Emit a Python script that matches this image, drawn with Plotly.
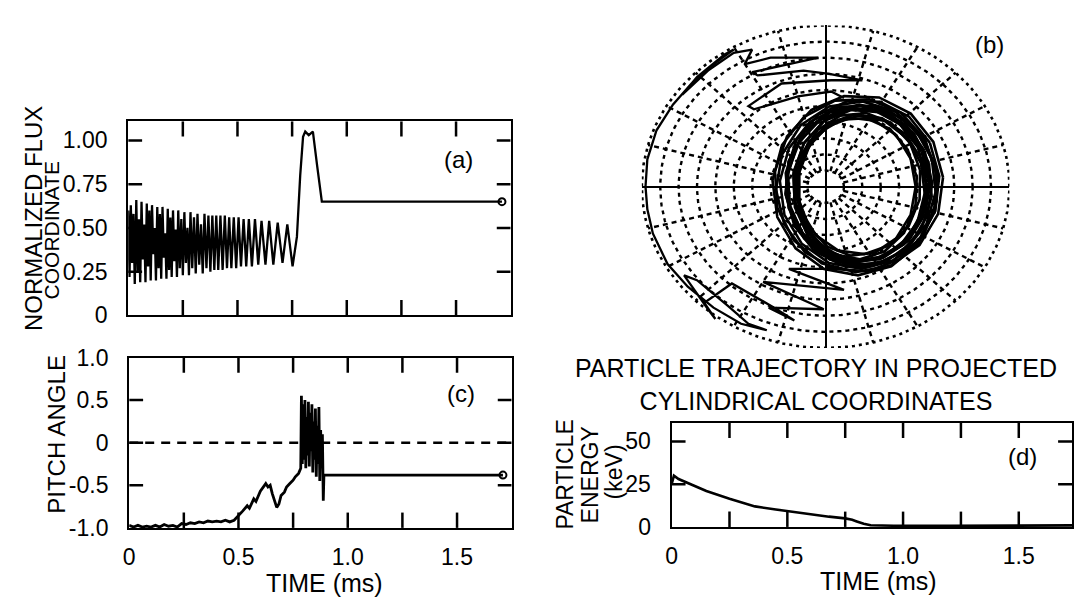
import numpy as np
import plotly.graph_objects as go

# ---------------- data ----------------
# (a) normalized flux coordinate vs time (ms): successive extrema of the orbit
flux_t = [0.000, 0.006, 0.012, 0.018, 0.024, 0.030, 0.037, 0.043, 0.049, 0.055,
          0.061, 0.067, 0.073, 0.079, 0.085, 0.091, 0.097, 0.103, 0.109, 0.115,
          0.121, 0.127, 0.133, 0.139, 0.145, 0.151, 0.157, 0.163, 0.169, 0.175,
          0.181, 0.187, 0.193, 0.199, 0.205, 0.211, 0.217, 0.223, 0.229, 0.236,
          0.243, 0.250, 0.257, 0.264, 0.271, 0.278, 0.285, 0.293, 0.301, 0.309,
          0.317, 0.325, 0.333, 0.341, 0.349, 0.358, 0.367, 0.376, 0.385, 0.394,
          0.403, 0.412, 0.422, 0.432, 0.442, 0.452, 0.462, 0.472, 0.483, 0.494,
          0.505, 0.516, 0.528, 0.540, 0.552, 0.566, 0.580, 0.595, 0.610, 0.628,
          0.645, 0.664, 0.684, 0.706, 0.728, 0.752, 0.772, 0.787, 0.800, 0.810,
          0.826, 0.845, 0.865, 0.886, 1.710]
flux_v = [0.60, 0.22, 0.63, 0.30, 0.58, 0.18, 0.66, 0.25, 0.55, 0.19,
          0.65, 0.32, 0.52, 0.19, 0.64, 0.28, 0.60, 0.20, 0.63, 0.35,
          0.50, 0.20, 0.62, 0.27, 0.58, 0.21, 0.62, 0.33, 0.47, 0.21,
          0.61, 0.26, 0.56, 0.22, 0.60, 0.31, 0.49, 0.22, 0.60, 0.27,
          0.55, 0.23, 0.59, 0.30, 0.50, 0.23, 0.59, 0.27, 0.56, 0.24,
          0.58, 0.29, 0.52, 0.24, 0.58, 0.27, 0.57, 0.25, 0.57, 0.26,
          0.57, 0.26, 0.57, 0.26, 0.57, 0.27, 0.56, 0.27, 0.56, 0.27,
          0.56, 0.28, 0.55, 0.28, 0.55, 0.28, 0.55, 0.29, 0.54, 0.29,
          0.54, 0.29, 0.53, 0.30, 0.52, 0.28, 0.45, 0.80, 1.02, 1.05,
          1.03, 1.05, 0.85, 0.65, 0.65]
flux_end = (1.71, 0.65)

# (c) pitch angle vs time (ms)
pitch_t = [0.00, 0.02, 0.04, 0.06, 0.08, 0.10, 0.12, 0.14, 0.16, 0.18,
           0.20, 0.22, 0.24, 0.26, 0.28, 0.30, 0.32, 0.34, 0.36, 0.38,
           0.40, 0.42, 0.44, 0.46, 0.48, 0.50, 0.52, 0.54, 0.55, 0.57,
           0.58, 0.60, 0.61, 0.625, 0.635, 0.645, 0.655, 0.665, 0.675, 0.685,
           0.695, 0.71, 0.72, 0.735, 0.75, 0.76, 0.775, 0.785,
           0.788, 0.792, 0.796, 0.800, 0.804, 0.808, 0.812, 0.816, 0.820, 0.824,
           0.828, 0.832, 0.836, 0.840, 0.844, 0.848, 0.852, 0.856, 0.860, 0.864,
           0.868, 0.872, 0.876, 0.880, 0.884, 0.888, 0.891, 1.710]
pitch_v = [-0.97, -0.99, -0.97, -0.99, -0.98, -0.99, -0.97, -0.99, -0.96, -0.98,
           -0.97, -0.99, -0.95, -0.96, -0.94, -0.95, -0.93, -0.94, -0.92, -0.93,
           -0.92, -0.93, -0.91, -0.93, -0.91, -0.86, -0.80, -0.74, -0.77, -0.66,
           -0.69, -0.57, -0.53, -0.48, -0.52, -0.50, -0.60, -0.68, -0.76, -0.72,
           -0.62, -0.58, -0.52, -0.48, -0.44, -0.40, -0.36, -0.30,
           0.55, -0.25, 0.45, -0.20, 0.50, -0.30, 0.30, -0.15, 0.48, -0.28,
           0.35, -0.10, 0.45, -0.35, 0.25, -0.20, 0.40, -0.40, 0.20, -0.25,
           0.42, -0.45, 0.15, -0.30, 0.10, -0.68, -0.38, -0.38]
pitch_end = (1.71, -0.38)

# (d) particle energy (keV) vs time (ms)
energy_t = [0.00, 0.01, 0.03, 0.08, 0.15, 0.25, 0.36, 0.45, 0.51, 0.60,
            0.68, 0.75, 0.78, 0.80, 0.83, 0.86, 0.96, 1.20, 1.50, 1.73]
energy_v = [25.0, 30.0, 28.0, 25.0, 21.0, 16.5, 12.0, 10.2, 9.0, 7.5,
            6.0, 5.0, 4.2, 3.2, 1.8, 1.0, 0.7, 0.6, 0.6, 0.9]

# (b) projected cylindrical coordinates: flux-surface grid
grid_rings = [0.1, 0.2, 0.3, 0.4, 0.5, 0.6, 0.7, 0.8, 0.9]
grid_edge = 1.0
grid_angles_deg = list(range(0, 360, 15))

# (b) confined part of the orbit: loop fits (centre, half-widths, vertex phase)
loop_cx = [0.17, 0.18, 0.19, 0.17, 0.18, 0.20, 0.16, 0.19, 0.18, 0.17, 0.19, 0.18,
           0.17, 0.19, 0.18, 0.20]
loop_cy = [0.00, 0.02, -0.01, 0.01, 0.00, 0.02, 0.00, -0.01, 0.01, 0.00, 0.01, 0.00,
           -0.01, 0.01, 0.02, 0.00]
loop_rx = [0.32, 0.34, 0.36, 0.38, 0.40, 0.42, 0.45, 0.35, 0.39, 0.44, 0.37, 0.43,
           0.33, 0.41, 0.46, 0.38]
loop_ry = [0.43, 0.44, 0.46, 0.48, 0.50, 0.52, 0.55, 0.45, 0.48, 0.53, 0.47, 0.51,
           0.44, 0.50, 0.55, 0.49]
loop_phase = [0, 11, 23, 5, 17, 29, 8, 20, 2, 14, 26, 32, 9, 19, 4, 27]

# (b) lost part of the orbit (normalized R, Z)
esc_x = [0.10, 0.03, -0.15, -0.39, -0.42, -0.24, 0.03, 0.20, 0.02, -0.12,
         -0.37, -0.40, -0.20, -0.04, -0.30, -0.44, -0.40, -0.50, -0.64, -0.78,
         -0.70, -0.55, -0.50, -0.61, -0.73, -0.83, -0.92, -0.97, -0.98, -0.97,
         -0.94, -0.86, -0.75, -0.61, -0.46, -0.32, -0.42, -0.53, -0.70, -0.77,
         -0.64, -0.60, -0.66, -0.51, -0.28, -0.17, -0.31, -0.01, -0.34, 0.10,
         -0.20, 0.10, 0.16]
esc_y = [0.55, 0.59, 0.56, 0.48, 0.50, 0.64, 0.66, 0.66, 0.70, 0.72,
         0.69, 0.71, 0.76, 0.80, 0.80, 0.76, 0.85, 0.83, 0.72, 0.57,
         0.68, 0.82, 0.85, 0.76, 0.64, 0.51, 0.35, 0.17, 0.00, -0.14,
         -0.29, -0.48, -0.62, -0.75, -0.85, -0.89, -0.85, -0.74, -0.58, -0.55,
         -0.76, -0.82, -0.72, -0.60, -0.75, -0.83, -0.75, -0.76, -0.59, -0.64,
         -0.51, -0.51, -0.47]

time_ticks = [0, 0.25, 0.5, 0.75, 1.0, 1.25, 1.5, 1.75]
time_ticktext = ['0', '', '0.5', '', '1.0', '', '1.5', '']
flux_ticks = [0, 0.25, 0.5, 0.75, 1.0]
flux_ticktext = ['0', '0.25', '0.50', '0.75', '1.00']
pitch_ticks = [-1.0, -0.5, 0, 0.5, 1.0]
pitch_ticktext = ['-1.0', '-0.5', '0', '0.5', '1.0']
energy_ticks = [0, 25, 50]
energy_ticktext = ['0', '25', '50']

# ---------------- layout helpers ----------------
W, H = 1074, 605
FONT = "Liberation Sans, Arial, Helvetica, sans-serif"
BLACK = "black"


def fx(px):
    return px / W


def fy(py):
    return 1 - py / H


fig = go.Figure()

# (a)
fig.add_trace(go.Scatter(x=flux_t, y=flux_v, mode="lines",
                         line=dict(color=BLACK, width=2.3), xaxis="x", yaxis="y"))
fig.add_trace(go.Scatter(x=[flux_end[0]], y=[flux_end[1]], mode="markers",
                         marker=dict(symbol="circle-open", size=7, color=BLACK,
                                     line=dict(width=2, color=BLACK)),
                         xaxis="x", yaxis="y"))

# (c)
fig.add_trace(go.Scatter(x=[0, 1.75], y=[0, 0], mode="lines",
                         line=dict(color=BLACK, width=2.5, dash="9px,7px"),
                         xaxis="x3", yaxis="y3"))
fig.add_trace(go.Scatter(x=pitch_t, y=pitch_v, mode="lines",
                         line=dict(color=BLACK, width=2.8), xaxis="x3", yaxis="y3"))
fig.add_trace(go.Scatter(x=[pitch_end[0]], y=[pitch_end[1]], mode="markers",
                         marker=dict(symbol="circle-open", size=7, color=BLACK,
                                     line=dict(width=2, color=BLACK)),
                         xaxis="x3", yaxis="y3"))

# (d)
fig.add_trace(go.Scatter(x=energy_t, y=energy_v, mode="lines",
                         line=dict(color=BLACK, width=2.6), xaxis="x4", yaxis="y4"))

# (b) grid
th = np.linspace(0, 2 * np.pi, 241)
rx, ry = [], []
for rr in grid_rings:
    rx += list(rr * np.cos(th)) + [None]
    ry += list(rr * np.sin(th)) + [None]
fig.add_trace(go.Scatter(x=rx, y=ry, mode="lines",
                         line=dict(color=BLACK, width=2.4, dash="4px,4px"),
                         xaxis="x2", yaxis="y2"))
fig.add_trace(go.Scatter(x=list(grid_edge * np.cos(th)), y=list(grid_edge * np.sin(th)),
                         mode="lines", line=dict(color=BLACK, width=2.6, dash="3px,4px"),
                         xaxis="x2", yaxis="y2"))
sx, sy = [], []
r_in = grid_rings[0]
for a in grid_angles_deg:
    if a % 90 == 0:
        continue
    ang = np.deg2rad(a)
    sx += [r_in * np.cos(ang), grid_edge * np.cos(ang), None]
    sy += [r_in * np.sin(ang), grid_edge * np.sin(ang), None]
fig.add_trace(go.Scatter(x=sx, y=sy, mode="lines",
                         line=dict(color=BLACK, width=2.4, dash="5px,4px"),
                         xaxis="x2", yaxis="y2"))

# (b) orbit
lx, ly = [], []
nv = 15
for cx, cy, ax_, ay_, ph in zip(loop_cx, loop_cy, loop_rx, loop_ry, loop_phase):
    ang = np.deg2rad(ph + np.arange(nv + 1) * 360.0 / nv)
    lx += list(cx + ax_ * np.cos(ang)) + [None]
    ly += list(cy + ay_ * np.sin(ang)) + [None]
fig.add_trace(go.Scatter(x=lx, y=ly, mode="lines",
                         line=dict(color=BLACK, width=2.6), xaxis="x2", yaxis="y2"))
fig.add_trace(go.Scatter(x=esc_x, y=esc_y, mode="lines",
                         line=dict(color=BLACK, width=2.3), xaxis="x2", yaxis="y2"))

# panel boxes in pixels: (xaxis, yaxis, left, right, top, bottom, xrange, yrange, xticks, yticks)
boxes = {
    "a": ("x", "y", 123, 508, 113, 316, [0, 1.75], [0, 1.11], time_ticks, flux_ticks),
    "c": ("x3", "y3", 124, 509, 360, 538, [0, 1.75], [-1, 1], time_ticks, pitch_ticks),
    "d": ("x4", "y4", 670, 1073, 428, 537, [0, 1.73], [0, 61], time_ticks, energy_ticks),
}

# inside tick marks on all four sides, drawn on each panel's own scales
XTL, YTL = 16, 14
for key, box in boxes.items():
    xa, ya, left, right, top, bottom, xr, yr, xt, yt = box
    dyl = XTL / (bottom - top) * (yr[1] - yr[0])
    dxl = YTL / (right - left) * (xr[1] - xr[0])
    tx, ty = [], []
    for v in xt:
        if xr[0] < v < xr[1]:
            tx += [v, v, None, v, v, None]
            ty += [yr[0], yr[0] + dyl, None, yr[1] - dyl, yr[1], None]
    for v in yt:
        if yr[0] < v < yr[1]:
            tx += [xr[0], xr[0] + dxl, None, xr[1] - dxl, xr[1], None]
            ty += [v, v, None, v, v, None]
    fig.add_trace(go.Scatter(x=tx, y=ty, mode="lines",
                             line=dict(color=BLACK, width=2.5),
                             xaxis=xa, yaxis=ya, hoverinfo="skip"))

tickfont = dict(family=FONT, size=23, color=BLACK)
frame = dict(showline=True, linecolor=BLACK, linewidth=2.2, mirror=True,
             ticks="", showgrid=False, zeroline=False, tickfont=tickfont,
             fixedrange=True)


def axis_pair(key, xlabels, yticktext, xtext=None):
    xa, ya, left, right, top, bottom, xr, yr, xt, yt = boxes[key]
    xd = dict(domain=[fx(left), fx(right)], range=xr, anchor=ya, tickvals=xt,
              showticklabels=xlabels, ticklabelstandoff=7, **frame)
    if xtext is not None:
        xd["ticktext"] = xtext
    yd = dict(domain=[fy(bottom), fy(top)], range=yr, anchor=xa, tickvals=yt,
              ticktext=yticktext, ticklabelstandoff=14, **frame)
    return xd, yd


xa_a, ya_a = axis_pair("a", False, flux_ticktext)
xa_c, ya_c = axis_pair("c", True, pitch_ticktext, time_ticktext)
xa_d, ya_d = axis_pair("d", True, energy_ticktext, time_ticktext)

fig.update_layout(
    width=W, height=H, margin=dict(l=0, r=0, t=0, b=0),
    paper_bgcolor="white", plot_bgcolor="white", showlegend=False,
    xaxis=xa_a, yaxis=ya_a, xaxis3=xa_c, yaxis3=ya_c, xaxis4=xa_d, yaxis4=ya_d,
    xaxis2=dict(domain=[fx(640), fx(1010)], range=[-1, 1], anchor="y2",
                showgrid=False, showticklabels=False, ticks="", showline=False,
                zeroline=True, zerolinecolor=BLACK, zerolinewidth=2, fixedrange=True),
    yaxis2=dict(domain=[fy(350), fy(13)], range=[-1, 1], anchor="x2",
                showgrid=False, showticklabels=False, ticks="", showline=False,
                zeroline=True, zerolinecolor=BLACK, zerolinewidth=2, fixedrange=True),
)


def ann(text, xp, yp, size, angle=0):
    fig.add_annotation(text=text, x=fx(xp), y=fy(yp), xref="paper", yref="paper",
                       xanchor="center", yanchor="middle", showarrow=False,
                       textangle=angle, font=dict(family=FONT, size=size, color=BLACK))


ann("NORMALIZED FLUX", 27.5, 215, 24, -90)
ann("COORDINATE", 46, 227.5, 21, -90)
ann("PITCH ANGLE", 50, 440, 24, -90)
ann("TIME (ms)", 321, 596, 25)
ann("TIME (ms)", 878, 593, 25)
ann("PARTICLE TRAJECTORY IN PROJECTED<br>CYLINDRICAL COORDINATES", 815, 388, 25)
ann("PARTICLE", 563, 482, 23, -90)
ann("ENERGY", 588, 483, 23, -90)
ann("(keV)", 612, 480, 23, -90)
ann("(a)", 455, 153, 24)
ann("(b)", 990, 33, 24)
ann("(c)", 458, 398, 24)
ann("(d)", 1023, 463, 24)

fig.write_html("out.html", config={"displayModeBar": False})
